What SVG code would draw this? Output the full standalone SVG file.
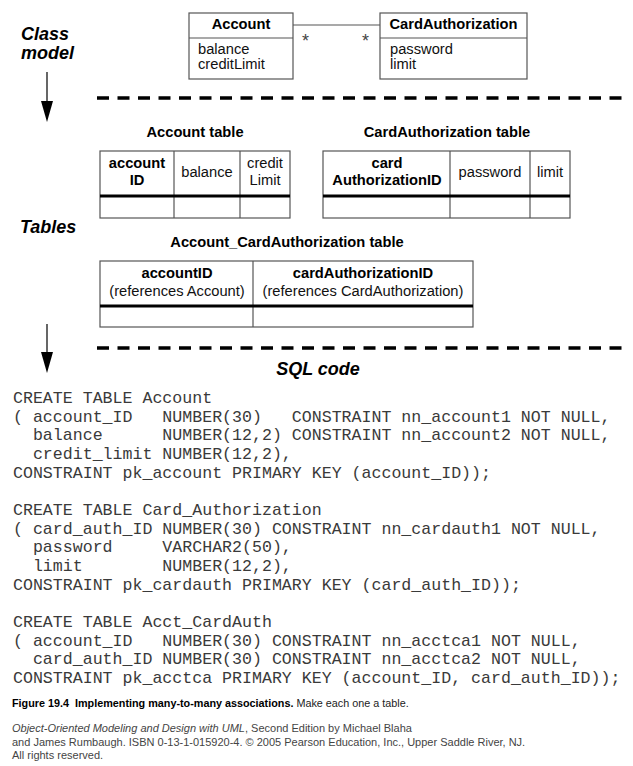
<svg xmlns="http://www.w3.org/2000/svg" width="633" height="766" viewBox="0 0 633 766">
<style>
.sans{font-family:"Liberation Sans",Arial,sans-serif}
.lbl{font-family:"Liberation Sans",Arial,sans-serif;font-size:18px;font-weight:bold;font-style:italic;fill:#000}
.b{font-family:"Liberation Sans",Arial,sans-serif;font-size:14.7px;font-weight:bold;fill:#000}
.r{font-family:"Liberation Sans",Arial,sans-serif;font-size:14.7px;fill:#111}
.box{fill:#fff;stroke:#555;stroke-width:1.2}
.thin{stroke:#555;stroke-width:1.2;fill:none}
.thick{stroke:#000;stroke-width:3.2}
.dash{stroke:#000;stroke-width:3.5;stroke-dasharray:12 8.5}
.code{font-family:"Liberation Mono","Courier New",monospace;font-size:16.6px;fill:#3a3a3a;white-space:pre}
.cap{font-family:"Liberation Sans",Arial,sans-serif;font-size:10.8px;fill:#222}
.cred{font-family:"Liberation Sans",Arial,sans-serif;font-size:11px;fill:#444}
.star{font-family:"Liberation Sans",Arial,sans-serif;font-size:18px;fill:#444}
</style>
<rect width="633" height="766" fill="#fff"/>

<g id="labels">
<text class="lbl" x="21" y="40">Class</text>
<text class="lbl" x="21" y="59">model</text>
<text class="lbl" x="20" y="233">Tables</text>
<text class="lbl" x="318" y="375" text-anchor="middle">SQL code</text>
</g>

<g id="connectors">
<line x1="47" y1="72" x2="47" y2="102" stroke="#000" stroke-width="1.2"/>
<path d="M41,101 L53,101 L47,122 Z" fill="#000"/>
<line x1="47" y1="324" x2="47" y2="353" stroke="#000" stroke-width="1.2"/>
<path d="M41,352 L53,352 L47,373 Z" fill="#000"/>
<line x1="97" y1="98" x2="628" y2="98" class="dash"/>
<line x1="97" y1="348" x2="628" y2="348" class="dash"/>
<line x1="293" y1="25" x2="380" y2="25" class="thin"/>
<text class="star" x="302" y="47">*</text>
<text class="star" x="362" y="47">*</text>
</g>

<g id="class-account">
<rect class="box" x="189" y="13" width="104" height="66"/>
<line class="thin" x1="189" y1="38" x2="293" y2="38"/>
<text class="b" x="241" y="29" text-anchor="middle">Account</text>
<text class="r" x="198" y="54">balance</text>
<text class="r" x="198" y="69">creditLimit</text>
</g>

<g id="class-cardauthorization">
<rect class="box" x="380" y="13" width="147" height="66"/>
<line class="thin" x1="380" y1="38" x2="527" y2="38"/>
<text class="b" x="453.5" y="29" text-anchor="middle">CardAuthorization</text>
<text class="r" x="390" y="54">password</text>
<text class="r" x="390" y="69">limit</text>
</g>

<g id="table-account">
<text class="b" x="195" y="137" text-anchor="middle">Account table</text>
<rect class="box" x="100" y="151" width="190" height="67"/>
<line class="thin" x1="174" y1="151" x2="174" y2="218"/>
<line class="thin" x1="240" y1="151" x2="240" y2="218"/>
<line class="thick" x1="100" y1="196" x2="290" y2="196"/>
<text class="b" x="137" y="168" text-anchor="middle">account</text>
<text class="b" x="137" y="185" text-anchor="middle">ID</text>
<text class="r" x="207" y="177" text-anchor="middle">balance</text>
<text class="r" x="265" y="168" text-anchor="middle">credit</text>
<text class="r" x="265" y="185" text-anchor="middle">Limit</text>
</g>

<g id="table-cardauthorization">
<text class="b" x="447" y="137" text-anchor="middle">CardAuthorization table</text>
<rect class="box" x="323" y="151" width="247" height="67"/>
<line class="thin" x1="450" y1="151" x2="450" y2="218"/>
<line class="thin" x1="530" y1="151" x2="530" y2="218"/>
<line class="thick" x1="323" y1="196" x2="570" y2="196"/>
<text class="b" x="387" y="168" text-anchor="middle">card</text>
<text class="b" x="387" y="185" text-anchor="middle">AuthorizationID</text>
<text class="r" x="490" y="177" text-anchor="middle">password</text>
<text class="r" x="550" y="177" text-anchor="middle">limit</text>
</g>

<g id="table-account-cardauthorization">
<text class="b" x="287" y="247" text-anchor="middle">Account_CardAuthorization table</text>
<rect class="box" x="100" y="261" width="373" height="66"/>
<line class="thin" x1="253" y1="261" x2="253" y2="327"/>
<line class="thick" x1="100" y1="306" x2="473" y2="306"/>
<text class="b" x="177" y="278" text-anchor="middle">accountID</text>
<text class="r" x="177" y="296" text-anchor="middle">(references Account)</text>
<text class="b" x="363" y="278" text-anchor="middle">cardAuthorizationID</text>
<text class="r" x="363" y="296" text-anchor="middle">(references CardAuthorization)</text>
</g>

<g id="sql">
<text class="code" x="13" y="403" xml:space="preserve">CREATE TABLE Account</text>
<text class="code" x="13" y="421.7" xml:space="preserve">( account_ID   NUMBER(30)   CONSTRAINT nn_account1 NOT NULL,</text>
<text class="code" x="13" y="440.3" xml:space="preserve">  balance      NUMBER(12,2) CONSTRAINT nn_account2 NOT NULL,</text>
<text class="code" x="13" y="459" xml:space="preserve">  credit_limit NUMBER(12,2),</text>
<text class="code" x="13" y="477.7" xml:space="preserve">CONSTRAINT pk_account PRIMARY KEY (account_ID));</text>
<text class="code" x="13" y="515" xml:space="preserve">CREATE TABLE Card_Authorization</text>
<text class="code" x="13" y="533.7" xml:space="preserve">( card_auth_ID NUMBER(30) CONSTRAINT nn_cardauth1 NOT NULL,</text>
<text class="code" x="13" y="552.3" xml:space="preserve">  password     VARCHAR2(50),</text>
<text class="code" x="13" y="571" xml:space="preserve">  limit        NUMBER(12,2),</text>
<text class="code" x="13" y="589.7" xml:space="preserve">CONSTRAINT pk_cardauth PRIMARY KEY (card_auth_ID));</text>
<text class="code" x="13" y="627" xml:space="preserve">CREATE TABLE Acct_CardAuth</text>
<text class="code" x="13" y="645.7" xml:space="preserve">( account_ID   NUMBER(30) CONSTRAINT nn_acctca1 NOT NULL,</text>
<text class="code" x="13" y="664.3" xml:space="preserve">  card_auth_ID NUMBER(30) CONSTRAINT nn_acctca2 NOT NULL,</text>
<text class="code" x="13" y="683" xml:space="preserve">CONSTRAINT pk_acctca PRIMARY KEY (account_ID, card_auth_ID));</text>
</g>

<g id="caption">
<text class="cap" x="12" y="707" xml:space="preserve"><tspan font-weight="bold" fill="#000">Figure 19.4  Implementing many-to-many associations.</tspan> Make each one a table.</text>
<text class="cred" x="12" y="732"><tspan font-style="italic">Object-Oriented Modeling and Design with UML</tspan>, Second Edition by Michael Blaha</text>
<text class="cred" x="12" y="745.5">and James Rumbaugh. ISBN 0-13-1-015920-4. © 2005 Pearson Education, Inc., Upper Saddle River, NJ.</text>
<text class="cred" x="12" y="759">All rights reserved.</text>
</g>
</svg>
